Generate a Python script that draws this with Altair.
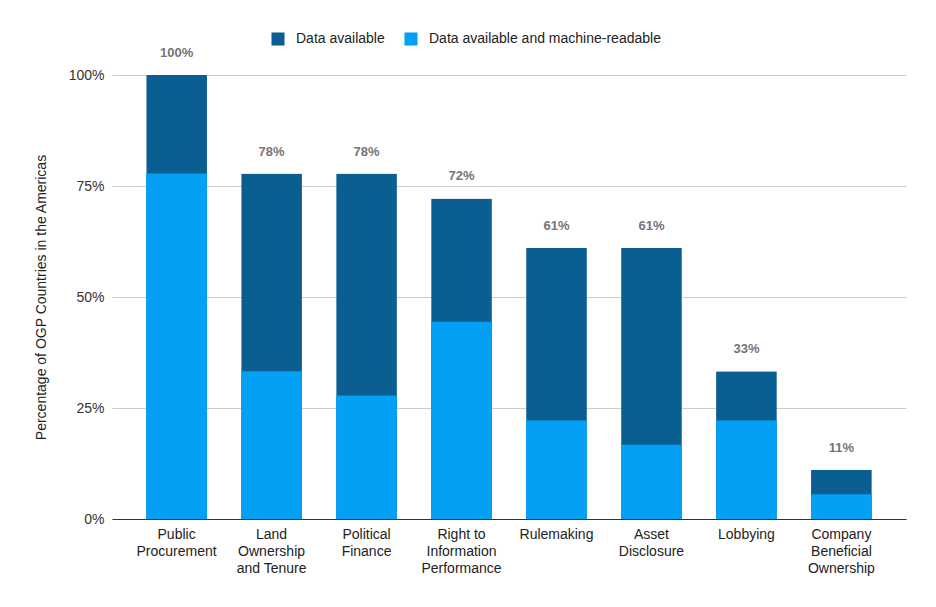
import altair as alt
import pandas as pd

categories = ["Public|Procurement", "Land|Ownership|and Tenure", "Political|Finance",
              "Right to|Information|Performance", "Rulemaking", "Asset|Disclosure",
              "Lobbying", "Company|Beneficial|Ownership"]
available = [100, 77.8, 77.8, 72.2, 61.1, 61.1, 33.3, 11.1]
machine_readable = [77.8, 33.3, 27.8, 44.4, 22.2, 16.7, 22.2, 5.6]
series = ["Data available", "Data available and machine-readable"]
colors = ["#0b5e92", "#03a0f5"]

rows = []
for c, a, m in zip(categories, available, machine_readable):
    rows.append({"cat": c, "series": series[0], "value": a, "label": f"{round(a)}%"})
    rows.append({"cat": c, "series": series[1], "value": m, "label": ""})
df = pd.DataFrame(rows)

FONT = "Liberation Sans"

x = alt.X("cat:N", sort=categories, title=None,
          scale=alt.Scale(paddingInner=0.36, paddingOuter=0.36),
          axis=alt.Axis(labelAngle=0, labelExpr="split(datum.label, '|')",
                        labelFont=FONT, labelFontSize=14, labelColor="#222222",
                        labelLineHeight=17, labelPadding=8, ticks=False,
                        domainColor="#333333", labelBaseline="top", labelLimit=300))
y = alt.Y("value:Q", title="Percentage of OGP Countries in the Americas",
          scale=alt.Scale(domain=[0, 100], nice=False),
          axis=alt.Axis(values=[0, 25, 50, 75, 100], labelExpr="datum.value + '%'",
                        labelFont=FONT, labelFontSize=14, labelColor="#333333",
                        titleFont=FONT, titleFontSize=14, titleFontWeight="normal",
                        titleColor="#222222", titlePadding=20, domain=False, ticks=False,
                        labelPadding=8, gridColor="#cccccc"))
color = alt.Color("series:N", scale=alt.Scale(domain=series, range=colors),
                  legend=alt.Legend(title=None, orient="none", legendX=159, legendY=-43,
                                    direction="horizontal", symbolType="square",
                                    symbolSize=170, symbolStrokeWidth=0, labelFont=FONT,
                                    labelFontSize=14, labelColor="#222222", columnPadding=19,
                                    labelOffset=11, labelLimit=400))

base = alt.Chart(df)
dark = base.transform_filter(alt.datum.series == series[0]).mark_bar(
    cornerRadiusTopLeft=1, cornerRadiusTopRight=1).encode(x=x, y=y, color=color)
light = base.transform_filter(alt.datum.series == series[1]).mark_bar().encode(
    x=x, y=y, color=color)
text = base.transform_filter(alt.datum.series == series[0]).mark_text(
    dy=-22, font=FONT, fontSize=13, fontWeight="bold", color="#757575").encode(
    x=x, y=y, text="label:N")

chart = alt.layer(dark, light, text).properties(
    width=794, height=444,
    background="white",
    autosize=alt.AutoSizeParams(type="none"),
    padding={"left": 112, "top": 75, "right": 30, "bottom": 88},
).configure_view(stroke=None)

chart.save("out.html", embed_options={"renderer": "svg", "actions": False})
